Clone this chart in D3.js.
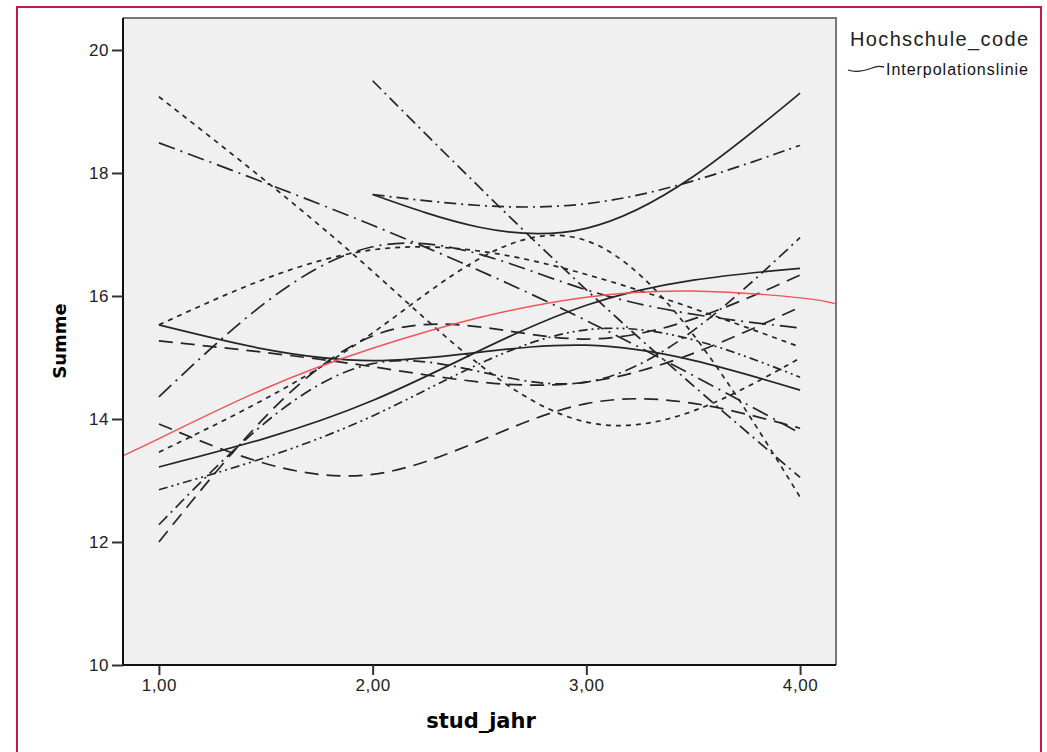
<!DOCTYPE html>
<html lang="de">
<head>
<meta charset="UTF-8">
<title>Summe nach stud_jahr</title>
<style>
  body { margin: 0; background: #fff; }
  svg { display: block; }
  .tick text { font-family: "Liberation Sans", Arial, sans-serif; font-size: 17px; fill: #222; letter-spacing: 0.6px; }
  .achsentitel { font-family: "DejaVu Sans", Verdana, sans-serif; font-weight: bold; font-size: 18px; fill: #000; }
</style>
</head>
<body>
<script src="https://cdn.jsdelivr.net/npm/d3@7/dist/d3.min.js"></script>
<script>

// Stützstellen stud_jahr
var jahre = [1, 2, 3, 4];
var yTicks = [10, 12, 14, 16, 18, 20];

// Summe je Hochschule (null = kein Wert in diesem Jahr)
var hochschulen = [
  [null, 17.65, 17.1, 19.3],
  [null, 17.65, 17.5, 18.45],
  [null, 19.5, 16.1, 13.05],
  [19.24, 16.4, 13.95, 14.99],
  [18.49, 17.15, 15.6, 13.77],
  [15.53, 16.75, 16.35, 15.17],
  [15.53, 14.95, 15.2, 14.47],
  [15.27, 14.85, 14.6, 15.82],
  [14.36, 16.8, 16.1, 15.48],
  [13.92, 13.1, 14.25, 13.85],
  [13.22, 14.3, 15.85, 16.45],
  [13.46, 15.4, 16.9, 12.73],
  [12.85, 14.05, 15.45, 14.68],
  [12.28, 14.9, 14.6, 16.95],
  [12.0, 15.35, 15.3, 16.34]
];
// Linienart je Hochschule
var linienArt = ["solid", "dashdot", "dashdot", "shortdash", "longdashdot",
  "shortdash", "solid", "longdash", "longdashdot", "longdash",
  "solid", "shortdash", "dashdotdot", "dashdot", "longdash"];

// Gesamt-Interpolationslinie (rot)
var gesamtX = [0.83, 1, 1.5, 2, 2.5, 3, 3.5, 4, 4.17];
var gesamtY = [13.40, 13.68, 14.5, 15.15, 15.65, 15.98, 16.08, 15.97, 15.87];

var dashes = {
  solid: null,
  shortdash: "5,5",
  longdash: "14,8",
  dashdot: "12,5,2,5",
  longdashdot: "17,6,2,6",
  dashdotdot: "9,4,2,4,2,4"
};

var width = 1047, height = 752;
var plot = { left: 123, top: 18, right: 836, bottom: 665 };

var svg = d3.select("body").append("svg")
    .attr("width", width)
    .attr("height", height);

// roter Rahmen
svg.append("rect")
    .attr("x", 17).attr("y", 7)
    .attr("width", 1024).attr("height", 760)
    .attr("fill", "none")
    .attr("stroke", "#c8174b")
    .attr("stroke-width", 2);

var x = d3.scaleLinear().domain([0.832, 4.168]).range([plot.left, plot.right]);
var y = d3.scaleLinear().domain([10, 20.52]).range([plot.bottom, plot.top]);

svg.append("rect")
    .attr("x", plot.left).attr("y", plot.top)
    .attr("width", plot.right - plot.left)
    .attr("height", plot.bottom - plot.top)
    .attr("fill", "#f0f0f0");

svg.append("clipPath").attr("id", "clip")
  .append("rect")
    .attr("x", plot.left).attr("y", plot.top)
    .attr("width", plot.right - plot.left)
    .attr("height", plot.bottom - plot.top);

var g = svg.append("g").attr("clip-path", "url(#clip)");

var line = d3.line()
    .defined(function(d) { return d[1] != null; })
    .x(function(d) { return x(d[0]); })
    .y(function(d) { return y(d[1]); })
    .curve(d3.curveNatural);

hochschulen.forEach(function(werte, i) {
  var punkte = jahre.map(function(j, k) { return [j, werte[k]]; })
      .filter(function(p) { return p[1] != null; });
  g.append("path")
      .attr("d", line(punkte))
      .attr("fill", "none")
      .attr("stroke", "#252525")
      .attr("stroke-width", 1.7)
      .attr("stroke-dasharray", dashes[linienArt[i]]);
});

g.append("path")
    .attr("d", line(gesamtX.map(function(v, k) { return [v, gesamtY[k]]; })))
    .attr("fill", "none")
    .attr("stroke", "#f05555")
    .attr("stroke-width", 1.4);

// Rahmen des Plotbereichs
svg.append("path")
    .attr("d", "M" + plot.left + "," + plot.top + "H" + plot.right + "V" + plot.bottom)
    .attr("fill", "none").attr("stroke", "#777").attr("stroke-width", 2);

// Achsen
var yAxis = svg.append("g")
    .attr("transform", "translate(" + plot.left + ",0)")
    .call(d3.axisLeft(y).tickValues(yTicks).tickSize(11).tickPadding(3).tickFormat(d3.format("d")));
var xAxis = svg.append("g")
    .attr("transform", "translate(0," + plot.bottom + ")")
    .call(d3.axisBottom(x).tickValues(jahre).tickSize(10).tickPadding(4)
      .tickFormat(function(d) { return d.toFixed(2).replace(".", ","); }));

[yAxis, xAxis].forEach(function(a) {
  a.select(".domain").attr("stroke", "#111").attr("stroke-width", 2);
  a.selectAll(".tick line").attr("stroke", "#333").attr("stroke-width", 2);
});
yAxis.select(".domain").attr("d", "M0," + plot.top + "V" + plot.bottom);
xAxis.select(".domain").attr("d", "M" + plot.left + ",0H" + plot.right);

svg.append("text")
    .attr("class", "achsentitel")
    .attr("transform", "translate(66,341) rotate(-90)")
    .attr("text-anchor", "middle")
    .text("Summe");

svg.append("text")
    .attr("class", "achsentitel")
    .attr("x", 481).attr("y", 728)
    .attr("text-anchor", "middle")
    .style("font-size", "21px")
    .text("stud_jahr");

// Legende
svg.append("text")
    .attr("x", 850).attr("y", 46)
    .attr("font-family", "Liberation Sans, Arial, sans-serif")
    .attr("font-size", 20)
    .attr("fill", "#222")
    .attr("textLength", 178)
    .attr("lengthAdjust", "spacing")
    .text("Hochschule_code");

svg.append("path")
    .attr("d", "M848,70 C856,73 864,71 872,68 C876,66 880,66 884,67")
    .attr("fill", "none")
    .attr("stroke", "#222")
    .attr("stroke-width", 1.3);

svg.append("text")
    .attr("x", 886).attr("y", 75)
    .attr("font-family", "Liberation Sans, Arial, sans-serif")
    .attr("font-size", 16)
    .attr("fill", "#111")
    .attr("textLength", 142)
    .attr("lengthAdjust", "spacing")
    .text("Interpolationslinie");

</script>
</body>
</html>
